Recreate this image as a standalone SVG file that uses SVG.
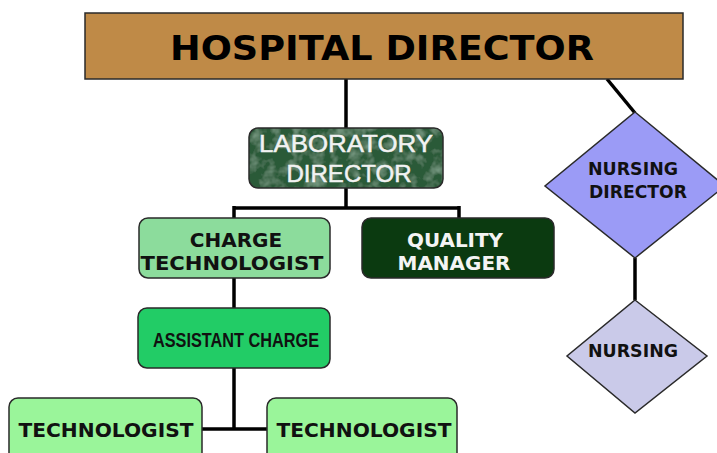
<svg xmlns="http://www.w3.org/2000/svg" width="717" height="453" viewBox="0 0 717 453">
  <style>
    .box { stroke: #2a2a2a; stroke-width: 1.5; }
    .wire { fill: none; stroke: #000; stroke-width: 3.5; }
    .vb { font-family: "DejaVu Sans", "Verdana", sans-serif; font-weight: bold; text-anchor: middle; }
    .ar { font-family: "Liberation Sans", "Arial", sans-serif; text-anchor: middle; }
  </style>
  <defs>
    <!-- mottled marble texture for the laboratory director plate -->
    <filter id="mottle" x="0" y="0" width="100%" height="100%">
      <feTurbulence type="fractalNoise" baseFrequency="0.08" numOctaves="3" seed="7" result="n"/>
      <feColorMatrix in="n" type="matrix" values="0 0 0 0 0.36  0 0 0 0 0.56  0 0 0 0 0.42  0 0 0 1.1 -0.5" result="spots"/>
      <feComposite in="spots" in2="SourceGraphic" operator="atop"/>
    </filter>
  </defs>

  <rect width="717" height="453" fill="#ffffff"/>

  <g id="connectors">
    <line class="wire" x1="346" y1="79" x2="346" y2="128"/>
    <line class="wire" x1="607" y1="79" x2="635" y2="113"/>
    <path class="wire" d="M346 188 V208 M234 208 H459 M234 206 V218 M459 206 V218"/>
    <line class="wire" x1="234" y1="278" x2="234" y2="308"/>
    <path class="wire" d="M234 368 V429 M202 429 H267"/>
    <line class="wire" x1="635" y1="258" x2="635" y2="300"/>
  </g>

  <g id="hospital-director">
    <rect class="box" x="85" y="13" width="598" height="66" fill="#bf8a47"/>
    <text class="vb" x="382" y="60" font-size="33" fill="#000" textLength="424" lengthAdjust="spacingAndGlyphs">HOSPITAL DIRECTOR</text>
  </g>

  <g id="laboratory-director">
    <rect x="249" y="128" width="194" height="60" rx="9" fill="#2b5a39" filter="url(#mottle)"/>
    <rect class="box" x="249" y="128" width="194" height="60" rx="9" fill="none"/>
    <text class="ar" x="346" y="152" font-size="24" fill="#f2f2f2" stroke="#f2f2f2" stroke-width="0.5" textLength="174" lengthAdjust="spacingAndGlyphs">LABORATORY</text>
    <text class="ar" x="349" y="182" font-size="24" fill="#f2f2f2" stroke="#f2f2f2" stroke-width="0.5" textLength="125" lengthAdjust="spacingAndGlyphs">DIRECTOR</text>
  </g>

  <g id="charge-technologist">
    <rect class="box" x="139" y="218" width="191" height="60" rx="9" fill="#8cdc9c"/>
    <text class="vb" x="236" y="247" font-size="20" fill="#111">CHARGE</text>
    <text class="vb" x="232" y="270" font-size="20" fill="#111" textLength="183" lengthAdjust="spacingAndGlyphs">TECHNOLOGIST</text>
  </g>

  <g id="quality-manager">
    <rect class="box" x="362" y="218" width="192" height="60" rx="9" fill="#0b3a10"/>
    <text class="vb" x="455" y="247" font-size="20" fill="#f4f4f4" textLength="96" lengthAdjust="spacingAndGlyphs">QUALITY</text>
    <text class="vb" x="454" y="270" font-size="20" fill="#f4f4f4" textLength="113" lengthAdjust="spacingAndGlyphs">MANAGER</text>
  </g>

  <g id="assistant-charge">
    <rect class="box" x="138" y="308" width="192" height="60" rx="9" fill="#22cc66"/>
    <text class="ar" x="236" y="347" font-size="20" font-weight="bold" fill="#111" textLength="166" lengthAdjust="spacingAndGlyphs">ASSISTANT CHARGE</text>
  </g>

  <g id="technologist-left">
    <rect class="box" x="9" y="398" width="193" height="70" rx="9" fill="#9af59a"/>
    <text class="vb" x="106" y="437" font-size="20" fill="#111" textLength="175" lengthAdjust="spacingAndGlyphs">TECHNOLOGIST</text>
  </g>

  <g id="technologist-right">
    <rect class="box" x="267" y="398" width="190" height="70" rx="9" fill="#9af59a"/>
    <text class="vb" x="364" y="437" font-size="20" fill="#111" textLength="175" lengthAdjust="spacingAndGlyphs">TECHNOLOGIST</text>
  </g>

  <g id="nursing-director">
    <polygon class="box" points="635,112 725,186 635,258 545,186" fill="#9b9bf6"/>
    <text class="vb" x="633" y="175" font-size="18" fill="#111" textLength="90" lengthAdjust="spacingAndGlyphs">NURSING</text>
    <text class="vb" x="638" y="198" font-size="18" fill="#111" textLength="98" lengthAdjust="spacingAndGlyphs">DIRECTOR</text>
  </g>

  <g id="nursing">
    <polygon class="box" points="635,300 707,356 635,413 567,356" fill="#cacae9"/>
    <text class="vb" x="633" y="357" font-size="18" fill="#111" textLength="90" lengthAdjust="spacingAndGlyphs">NURSING</text>
  </g>
</svg>
